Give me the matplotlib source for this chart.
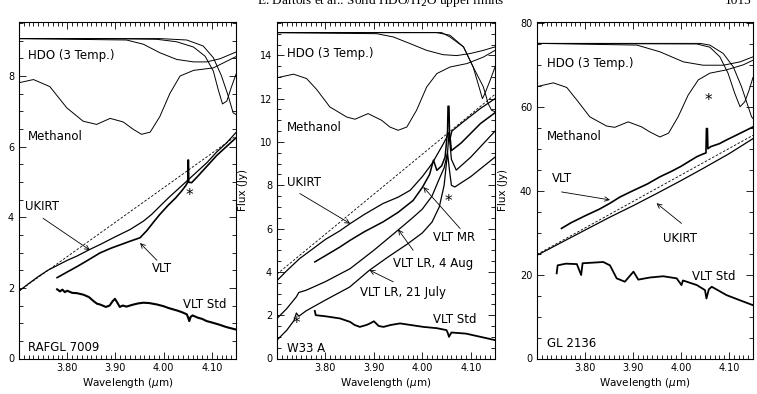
import matplotlib
matplotlib.use("Agg")
import matplotlib.pyplot as plt
from matplotlib.ticker import MultipleLocator

plt.rcParams['font.family'] = ['DejaVu Sans']

# ---------------- Panel 1 : RAFGL 7009 ----------------
p1_hdo1_wl = [3.700, 3.868, 3.986, 4.027, 4.062, 4.086, 4.103, 4.113, 4.122, 4.131, 4.140, 4.150]
p1_hdo1_fl = [9.06, 9.06, 9.04, 8.97, 8.82, 8.56, 8.14, 7.62, 7.21, 7.29, 7.67, 8.05]
p1_hdo2_wl = [3.700, 3.992, 4.048, 4.082, 4.103, 4.120, 4.134, 4.144, 4.150]
p1_hdo2_fl = [9.06, 9.06, 9.02, 8.85, 8.52, 8.00, 7.43, 6.96, 6.91]
p1_hdo3_wl = [3.700, 3.923, 3.958, 3.992, 4.027, 4.062, 4.089, 4.117, 4.150]
p1_hdo3_fl = [9.06, 9.02, 8.90, 8.66, 8.47, 8.40, 8.40, 8.49, 8.68]
p1_meth_wl = [3.700, 3.730, 3.764, 3.799, 3.833, 3.861, 3.889, 3.916, 3.937, 3.954, 3.972,
              3.992, 4.013, 4.034, 4.062, 4.103, 4.150]
p1_meth_fl = [7.81, 7.90, 7.70, 7.10, 6.72, 6.63, 6.80, 6.70, 6.49, 6.35, 6.41,
              6.85, 7.51, 8.00, 8.16, 8.23, 8.55]
p1_dash_wl = [3.700, 4.150]
p1_dash_fl = [1.91, 6.30]
p1_ukirt_wl = [3.700, 3.720, 3.740, 3.760, 3.780, 3.800, 3.820, 3.847, 3.870, 3.900, 3.930,
               3.958, 3.975, 3.992, 4.010, 4.030, 4.050, 4.070, 4.090, 4.110, 4.130, 4.150]
p1_ukirt_fl = [1.91, 2.12, 2.32, 2.50, 2.64, 2.78, 2.90, 3.09, 3.24, 3.45, 3.65,
               3.89, 4.08, 4.31, 4.55, 4.80, 5.05, 5.30, 5.55, 5.85, 6.10, 6.40]
p1_vlt_wl = [3.779, 3.800, 3.820, 3.840, 3.868, 3.890, 3.910, 3.930, 3.951, 3.965, 3.980,
             3.992, 4.010, 4.025, 4.037, 4.046, 4.050, 4.0505, 4.0515, 4.052, 4.058, 4.070,
             4.090, 4.110, 4.130, 4.150]
p1_vlt_fl = [2.29, 2.45, 2.60, 2.76, 2.99, 3.12, 3.22, 3.32, 3.42, 3.62, 3.88,
             4.08, 4.35, 4.55, 4.74, 4.90, 5.00, 5.62, 5.62, 4.99, 4.98, 5.15,
             5.45, 5.75, 6.00, 6.25]
p1_std_wl = [3.779, 3.785, 3.790, 3.795, 3.800, 3.810, 3.820, 3.833, 3.845, 3.855, 3.862,
             3.868, 3.875, 3.880, 3.888, 3.894, 3.899, 3.904, 3.909, 3.915, 3.923, 3.935,
             3.947, 3.958, 3.970, 3.986, 4.000, 4.010, 4.020, 4.030, 4.040, 4.048, 4.051,
             4.053, 4.056, 4.060, 4.070, 4.080, 4.089, 4.100, 4.115, 4.130, 4.150]
p1_std_fl = [1.96, 1.90, 1.95, 1.88, 1.92, 1.86, 1.85, 1.81, 1.74, 1.62, 1.55,
             1.53, 1.49, 1.46, 1.50, 1.62, 1.69, 1.58, 1.46, 1.50, 1.47, 1.52,
             1.56, 1.58, 1.57, 1.53, 1.48, 1.43, 1.39, 1.35, 1.30, 1.25, 1.15,
             1.06, 1.18, 1.22, 1.16, 1.12, 1.06, 1.02, 0.96, 0.89, 0.82]

# ---------------- Panel 2 : W33 A ----------------
p2_hdo1_wl = [3.700, 4.030, 4.057, 4.085, 4.105, 4.119, 4.124, 4.129, 4.140, 4.150]
p2_hdo1_fl = [15.05, 15.05, 14.93, 14.39, 13.46, 12.39, 12.00, 12.23, 12.85, 13.46]
p2_hdo2_wl = [3.700, 4.040, 4.057, 4.085, 4.105, 4.126, 4.136, 4.143, 4.150]
p2_hdo2_fl = [15.05, 15.05, 14.85, 14.39, 13.46, 12.54, 11.77, 11.46, 11.40]
p2_hdo3_wl = [3.700, 3.906, 3.940, 3.975, 4.009, 4.043, 4.071, 4.098, 4.126, 4.150]
p2_hdo3_fl = [15.05, 15.00, 14.85, 14.54, 14.23, 14.03, 13.99, 14.08, 14.23, 14.39]
p2_meth_wl = [3.701, 3.734, 3.761, 3.782, 3.809, 3.844, 3.861, 3.888, 3.916, 3.933, 3.950,
              3.968, 3.988, 4.009, 4.030, 4.057, 4.092, 4.126, 4.150]
p2_meth_fl = [12.97, 13.13, 12.93, 12.42, 11.62, 11.15, 11.05, 11.31, 11.00, 10.69, 10.54,
              10.69, 11.46, 12.54, 13.16, 13.46, 13.62, 13.92, 14.23]
p2_dash_wl = [3.700, 4.150]
p2_dash_fl = [3.90, 12.20]
p2_ukirt_wl = [3.700, 3.720, 3.747, 3.770, 3.800, 3.830, 3.851, 3.880, 3.919, 3.950, 3.975,
               4.000, 4.020, 4.043, 4.050, 4.054, 4.058, 4.061, 4.080, 4.100, 4.120, 4.150]
p2_ukirt_fl = [3.60, 4.05, 4.62, 5.00, 5.50, 5.90, 6.23, 6.65, 7.16, 7.45, 7.77,
               8.40, 9.00, 9.90, 10.20, 10.40, 10.20, 10.50, 10.85, 11.20, 11.55, 12.00]
p2_mr_wl = [3.778, 3.800, 3.830, 3.851, 3.880, 3.919, 3.950, 3.981, 4.000, 4.015, 4.023,
            4.030, 4.040, 4.047, 4.052, 4.053, 4.055, 4.056, 4.060, 4.080, 4.100, 4.120, 4.150]
p2_mr_fl = [4.46, 4.75, 5.15, 5.46, 5.85, 6.31, 6.75, 7.30, 7.90, 8.50, 9.16,
            8.69, 8.90, 9.31, 10.50, 11.65, 11.65, 10.50, 9.60, 9.95, 10.40, 10.85, 11.35]
p2_lr4_wl = [3.700, 3.720, 3.740, 3.745, 3.760, 3.800, 3.851, 3.900, 3.951, 3.980, 4.000,
             4.020, 4.035, 4.045, 4.052, 4.055, 4.060, 4.070, 4.100, 4.150]
p2_lr4_fl = [1.85, 2.30, 2.85, 3.05, 3.15, 3.55, 4.15, 5.00, 5.95, 6.50, 6.90,
             7.50, 8.30, 8.80, 9.50, 10.40, 9.20, 8.70, 9.30, 10.50]
p2_lr21_wl = [3.700, 3.720, 3.735, 3.740, 3.745, 3.760, 3.800, 3.850, 3.891, 3.930, 3.970,
              4.000, 4.020, 4.035, 4.045, 4.052, 4.056, 4.060, 4.067, 4.100, 4.150]
p2_lr21_fl = [0.85, 1.30, 1.75, 2.10, 1.95, 2.20, 2.70, 3.30, 4.08, 4.70, 5.30,
              5.80, 6.30, 7.00, 8.00, 9.50, 8.70, 8.00, 7.92, 8.40, 9.30]
p2_std_wl = [3.778, 3.780, 3.800, 3.830, 3.851, 3.860, 3.871, 3.885, 3.892, 3.900, 3.910,
             3.920, 3.935, 3.954, 3.975, 4.002, 4.030, 4.050, 4.053, 4.055, 4.060, 4.090, 4.120, 4.150]
p2_std_fl = [2.20, 2.00, 1.95, 1.85, 1.69, 1.55, 1.46, 1.55, 1.62, 1.72, 1.50,
             1.46, 1.55, 1.62, 1.55, 1.46, 1.40, 1.31, 1.15, 1.00, 1.20, 1.15, 1.00, 0.85]

# ---------------- Panel 3 : GL 2136 ----------------
p3_hdo1_wl = [3.700, 4.033, 4.060, 4.081, 4.098, 4.112, 4.123, 4.133, 4.142, 4.150]
p3_hdo1_fl = [75.1, 74.96, 74.2, 71.9, 68.0, 63.2, 60.0, 61.2, 64.0, 67.0]
p3_hdo2_wl = [3.700, 4.040, 4.060, 4.088, 4.109, 4.126, 4.140, 4.147, 4.150]
p3_hdo2_fl = [75.1, 75.1, 74.7, 72.7, 69.5, 64.8, 60.0, 57.6, 57.2]
p3_hdo3_wl = [3.700, 3.908, 3.956, 4.005, 4.046, 4.088, 4.123, 4.150]
p3_hdo3_fl = [75.1, 74.7, 73.1, 70.7, 69.9, 69.9, 70.7, 71.9]
p3_meth_wl = [3.700, 3.734, 3.762, 3.783, 3.810, 3.845, 3.862, 3.890, 3.918, 3.935, 3.956,
              3.974, 3.994, 4.015, 4.036, 4.060, 4.095, 4.130, 4.150]
p3_meth_fl = [64.8, 65.7, 64.6, 61.6, 57.6, 55.4, 55.1, 56.4, 55.2, 54.0, 52.8,
              53.7, 57.6, 62.8, 66.4, 68.0, 68.8, 70.0, 71.1]
p3_dash_wl = [3.700, 4.150]
p3_dash_fl = [24.8, 53.2]
p3_ukirt_wl = [3.700, 3.750, 3.800, 3.852, 3.900, 3.949, 4.000, 4.046, 4.100, 4.150]
p3_ukirt_fl = [24.6, 27.6, 30.6, 33.7, 36.4, 39.3, 42.4, 45.3, 48.8, 52.4]
p3_vlt_wl = [3.751, 3.770, 3.800, 3.830, 3.852, 3.873, 3.900, 3.930, 3.956, 3.980, 4.000,
             4.020, 4.033, 4.045, 4.052, 4.053, 4.055, 4.056, 4.062, 4.080, 4.095, 4.120, 4.150]
p3_vlt_fl = [31.0, 32.3, 34.0, 35.6, 37.0, 38.5, 40.0, 41.6, 43.3, 44.6, 45.8,
             47.2, 48.1, 48.7, 49.0, 54.8, 54.8, 50.0, 50.5, 51.2, 52.1, 53.5, 55.2]
p3_std_wl = [3.741, 3.743, 3.760, 3.783, 3.792, 3.795, 3.810, 3.838, 3.852, 3.866, 3.883,
             3.901, 3.911, 3.935, 3.963, 3.991, 4.001, 4.004, 4.033, 4.050, 4.053, 4.058,
             4.064, 4.095, 4.120, 4.150]
p3_std_fl = [20.3, 22.2, 22.6, 22.5, 19.9, 22.7, 22.8, 23.0, 22.2, 19.1, 18.3,
             20.7, 18.8, 19.3, 19.6, 19.1, 17.5, 18.6, 17.5, 16.3, 14.3, 16.5,
             17.1, 15.1, 14.0, 12.7]

XLIM = (3.70, 4.15)

fig = plt.figure(figsize=(7.57, 3.94), dpi=100)
bottom = 1 - 358.5 / 394
height = (358.5 - 22) / 394
ax1 = fig.add_axes([19 / 757, bottom, 217 / 757, height])
ax2 = fig.add_axes([277 / 757, bottom, 218 / 757, height])
ax3 = fig.add_axes([537 / 757, bottom, 216 / 757, height])

LAB = 8.5


def style(ax, ymax, ymaj, ymin, lab_x):
    ax.set_xlim(*XLIM)
    ax.set_ylim(0, ymax)
    ax.xaxis.set_major_locator(MultipleLocator(0.1))
    ax.xaxis.set_minor_locator(MultipleLocator(0.01))
    ax.yaxis.set_major_locator(MultipleLocator(ymaj))
    ax.yaxis.set_minor_locator(MultipleLocator(ymin))
    ax.xaxis.set_major_formatter(plt.FuncFormatter(lambda v, p: f"{v:.2f}"))
    ax.tick_params(which='both', direction='in', top=True, right=True, labelsize=7, width=0.6)
    ax.tick_params(which='major', length=5)
    ax.tick_params(which='minor', length=2.8)
    for s in ax.spines.values():
        s.set_linewidth(0.8)
    ax.set_xticks([3.80, 3.90, 4.00, 4.10])
    ax.set_xlabel(r"Wavelength ($\mu$m)", fontsize=7.5, labelpad=2)
    ax.set_ylabel("Flux (Jy)", fontsize=7.5)
    ax.yaxis.set_label_coords(lab_x, 0.5)


TW = 0.7   # template line width
SW = 0.9   # spectrum line width


def templates(ax, h1w, h1f, h2w, h2f, h3w, h3f, mw, mf):
    ax.plot(h1w, h1f, color='black', lw=TW)
    ax.plot(h2w, h2f, color='black', lw=TW)
    ax.plot(h3w, h3f, color='black', lw=TW)
    ax.plot(mw, mf, color='black', lw=TW)


def arrow(ax, tail, tip):
    ax.annotate('', xy=tip, xytext=tail,
                arrowprops=dict(arrowstyle='->', lw=0.6, color='black',
                                shrinkA=0, shrinkB=0, mutation_scale=8))


# Panel 1
style(ax1, 9.53, 2, 0.5, -0.092)
templates(ax1, p1_hdo1_wl, p1_hdo1_fl, p1_hdo2_wl, p1_hdo2_fl, p1_hdo3_wl, p1_hdo3_fl,
          p1_meth_wl, p1_meth_fl)
ax1.plot(p1_dash_wl, p1_dash_fl, color='black', lw=0.6, ls=(0, (3, 2)))
ax1.plot(p1_ukirt_wl, p1_ukirt_fl, color='black', lw=SW)
ax1.plot(p1_vlt_wl, p1_vlt_fl, color='black', lw=1.2)
ax1.plot(p1_std_wl, p1_std_fl, color='black', lw=1.5)
ax1.text(3.719, 8.59, "HDO (3 Temp.)", fontsize=LAB, va='center')
ax1.text(3.719, 6.30, "Methanol", fontsize=LAB, va='center')
ax1.text(3.712, 4.31, "UKIRT", fontsize=LAB, va='center')
ax1.text(3.976, 2.56, "VLT", fontsize=LAB, va='center')
ax1.text(4.040, 1.54, "VLT Std", fontsize=LAB, va='center')
ax1.text(3.719, 0.32, "RAFGL 7009", fontsize=LAB, va='center')
ax1.text(4.053, 4.63, "*", fontsize=11, ha='center', va='center')
arrow(ax1, (3.750, 3.97), (3.847, 3.07))
arrow(ax1, (3.986, 2.78), (3.951, 3.27))

# Panel 2
style(ax2, 15.54, 2, 0.5, -0.133)
templates(ax2, p2_hdo1_wl, p2_hdo1_fl, p2_hdo2_wl, p2_hdo2_fl, p2_hdo3_wl, p2_hdo3_fl,
          p2_meth_wl, p2_meth_fl)
ax2.plot(p2_dash_wl, p2_dash_fl, color='black', lw=0.6, ls=(0, (3, 2)))
ax2.plot(p2_ukirt_wl, p2_ukirt_fl, color='black', lw=SW)
ax2.plot(p2_mr_wl, p2_mr_fl, color='black', lw=1.1)
ax2.plot(p2_lr4_wl, p2_lr4_fl, color='black', lw=SW)
ax2.plot(p2_lr21_wl, p2_lr21_fl, color='black', lw=SW)
ax2.plot(p2_std_wl, p2_std_fl, color='black', lw=1.3)
ax2.text(3.721, 14.08, "HDO (3 Temp.)", fontsize=LAB, va='center')
ax2.text(3.721, 10.66, "Methanol", fontsize=LAB, va='center')
ax2.text(3.720, 8.15, "UKIRT", fontsize=LAB, va='center')
ax2.text(4.021, 5.61, "VLT MR", fontsize=LAB, va='center')
ax2.text(3.940, 4.39, "VLT LR, 4 Aug", fontsize=LAB, va='center')
ax2.text(3.871, 3.07, "VLT LR, 21 July", fontsize=LAB, va='center')
ax2.text(4.021, 1.81, "VLT Std", fontsize=LAB, va='center')
ax2.text(3.720, 0.46, "W33 A", fontsize=LAB, va='center')
ax2.text(3.741, 1.62, "*", fontsize=11, ha='center', va='center')
ax2.text(4.054, 7.23, "*", fontsize=11, ha='center', va='center')
arrow(ax2, (3.747, 7.62), (3.851, 6.23))
arrow(ax2, (4.078, 6.00), (4.002, 7.92))
arrow(ax2, (3.981, 5.00), (3.950, 5.96))
arrow(ax2, (3.940, 3.54), (3.891, 4.08))

# Panel 3
style(ax3, 80.2, 20, 5, -0.134)
templates(ax3, p3_hdo1_wl, p3_hdo1_fl, p3_hdo2_wl, p3_hdo2_fl, p3_hdo3_wl, p3_hdo3_fl,
          p3_meth_wl, p3_meth_fl)
ax3.plot(p3_dash_wl, p3_dash_fl, color='black', lw=0.6, ls=(0, (3, 2)))
ax3.plot(p3_ukirt_wl, p3_ukirt_fl, color='black', lw=SW)
ax3.plot(p3_vlt_wl, p3_vlt_fl, color='black', lw=1.2)
ax3.plot(p3_std_wl, p3_std_fl, color='black', lw=1.3)
ax3.text(3.721, 70.4, "HDO (3 Temp.)", fontsize=LAB, va='center')
ax3.text(3.721, 52.8, "Methanol", fontsize=LAB, va='center')
ax3.text(4.057, 61.6, "*", fontsize=11, ha='center', va='center')
ax3.text(3.731, 42.8, "VLT", fontsize=LAB, va='center')
ax3.text(3.963, 28.6, "UKIRT", fontsize=LAB, va='center')
ax3.text(4.022, 19.5, "VLT Std", fontsize=LAB, va='center')
ax3.text(3.720, 3.6, "GL 2136", fontsize=LAB, va='center')
arrow(ax3, (3.751, 39.7), (3.852, 37.8))
arrow(ax3, (4.001, 32.2), (3.949, 37.0))

fig.text(0.503, 0.997, "E. Dartois et al.: Solid HDO/H$_2$O upper limits",
         family='Liberation Serif', fontsize=9.5, ha='center', va='center')
fig.text(0.975, 0.997, "1015", family='Liberation Serif', fontsize=9.5,
         ha='center', va='center')

fig.savefig("out.png", dpi=100)
